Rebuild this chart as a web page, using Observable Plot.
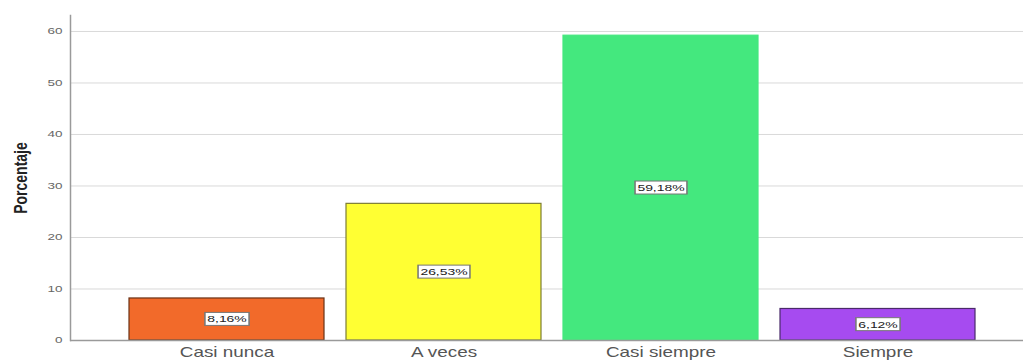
<!DOCTYPE html>
<html>
<head>
<meta charset="utf-8">
<script src="https://cdn.jsdelivr.net/npm/d3@7"></script>
<script src="https://cdn.jsdelivr.net/npm/@observablehq/plot@0.6"></script>
<style>
  html, body { margin: 0; padding: 0; background: #fff; }
  #chart svg { display: block; }
</style>
</head>
<body>
<div id="chart"></div>
<script>
const categories = ["Casi nunca", "A veces", "Casi siempre", "Siempre"];
const values = [8.16, 26.53, 59.18, 6.12];
const labels = ["8,16%", "26,53%", "59,18%", "6,12%"];
const fills = ["#F26A2A", "#FFFF33", "#44E87E", "#A64BF0"];
const strokes = ["#6a3216", "#7d7d35", "#44E87E", "#4a2a6a"];
const yTicks = [0, 10, 20, 30, 40, 50, 60];

const data = categories.map((c, i) => ({cat: c, v: values[i], label: labels[i], fill: fills[i], stroke: strokes[i]}));

const chart = Plot.plot({
  width: 1023,
  height: 361,
  marginLeft: 70,
  marginRight: 0,
  marginTop: 15,
  marginBottom: 21,
  style: {fontFamily: "'Liberation Sans', Arial, sans-serif", background: "#fff"},
  x: {domain: categories, range: [106.3, 997.7], paddingInner: 0.1, paddingOuter: 0.1, label: null},
  y: {domain: [0, 63.1], label: null},
  marks: [
    Plot.gridY(yTicks.filter(d => d > 0), {stroke: "#d9d9d9", strokeOpacity: 1, strokeWidth: 1}),
    Plot.barY(data, {x: "cat", y: "v", fill: "fill", stroke: "stroke", strokeWidth: 1.2}),
    Plot.ruleY([0], {stroke: "#9a9a9a", strokeWidth: 1.5}),
    Plot.frame({anchor: "left", stroke: "#9a9a9a", strokeWidth: 1.5}),
    Plot.axisY(yTicks, {tickSize: 0, tickPadding: 8, fontSize: 9, fill: "#666", label: null, className: "ytick"}),
    Plot.axisX({tickSize: 0, tickPadding: 7, fontSize: 14, fill: "#555", label: null, className: "xtick"}),
    Plot.text(data, {x: "cat", y: d => d.v / 2, text: "label", fontSize: 9, fill: "#222", className: "barlabel"}),
    Plot.text(["Porcentaje"], {frameAnchor: "left", textAnchor: "middle", dx: -50, rotate: -90, fontSize: 14, fontWeight: "bold", fill: "#222", className: "ylabel"})
  ]
});
document.getElementById("chart").appendChild(chart);

// widen glyphs horizontally (the reference is stretched sideways)
function stretch(sel, s) {
  d3.select(chart).selectAll(sel).each(function() {
    const t = this.getAttribute("transform");
    if (t && /^translate\([^)]*\)/.test(t)) {
      this.setAttribute("transform", t.replace(/^(translate\([^)]*\))/, `$1 scale(${s},1)`));
    } else {
      const x = +(this.getAttribute("x") || 0), y = +(this.getAttribute("y") || 0);
      this.setAttribute("transform", `translate(${x},${y}) scale(${s},1) translate(${-x},${-y})` + (t ? " " + t : ""));
    }
  });
}
stretch("g.xtick text", 1.35);
stretch("g.ytick text", 1.5);
stretch("g.barlabel text", 1.55);
stretch("g.ylabel text", 1.35);

// white boxes with gray borders behind bar labels
d3.select(chart).selectAll("g.barlabel text").each(function() {
  const b = this.getBBox();
  const padX = 1.5, padY = 1.5;
  d3.select(this.parentNode).insert("rect", () => this)
    .attr("x", b.x - padX).attr("y", b.y - padY)
    .attr("width", b.width + 2 * padX).attr("height", b.height + 2 * padY)
    .attr("transform", this.getAttribute("transform"))
    .attr("fill", "#fff").attr("stroke", "#777").attr("stroke-width", 1);
});
</script>
</body>
</html>
